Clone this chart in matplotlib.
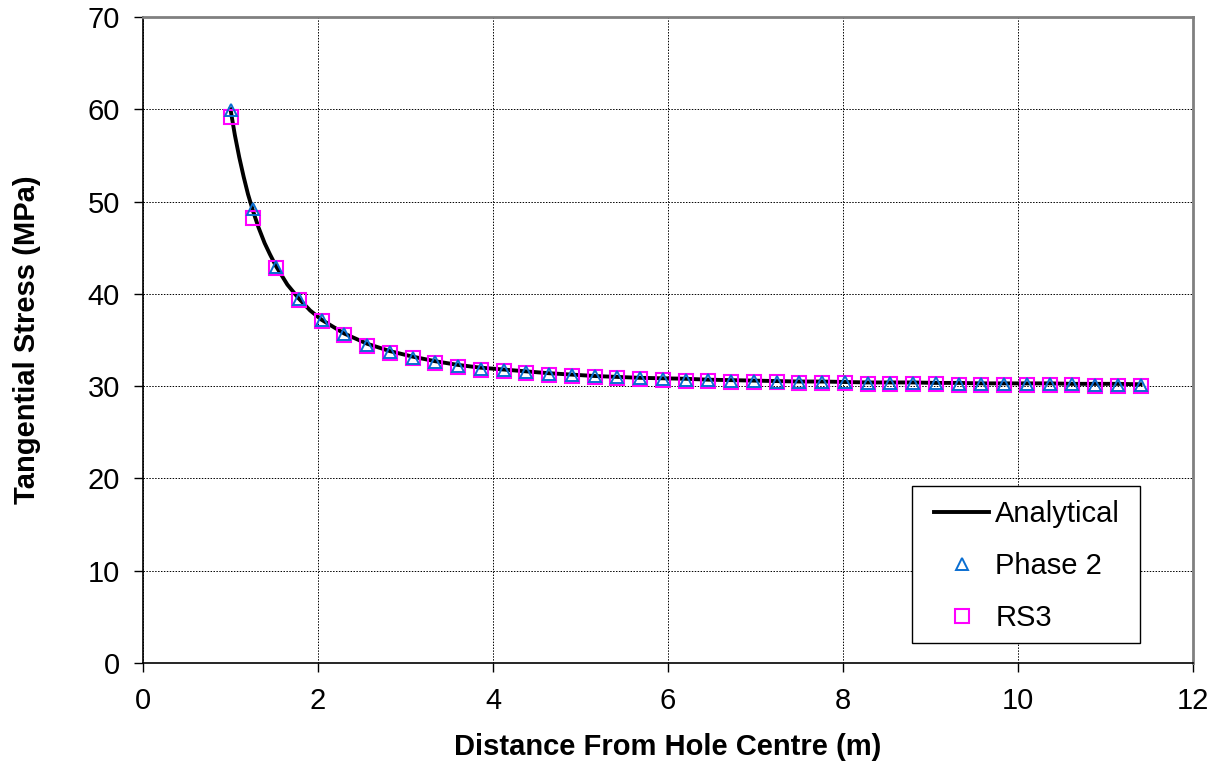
import matplotlib
matplotlib.use("Agg")
import matplotlib.pyplot as plt
from matplotlib.patches import Rectangle

plt.rcParams['font.family'] = ['Liberation Sans', 'DejaVu Sans']

# Analytical curve
r_analytical = [1.0, 1.05, 1.1, 1.15, 1.2, 1.26, 1.32, 1.39, 1.45, 1.52, 1.65, 1.78, 1.91,
                2.04, 2.3, 2.56, 2.82, 3.08, 3.34, 3.6, 3.86, 4.12, 4.38, 4.64, 4.9,
                5.16, 5.42, 5.68, 5.94, 6.2, 6.46, 6.72, 6.98, 7.24, 7.5, 7.76, 8.02,
                8.28, 8.54, 8.8, 9.06, 9.32, 9.58, 9.84, 10.1, 10.36, 10.62, 10.88,
                11.14, 11.4]
s_analytical = [60.0, 57.2, 54.8, 52.7, 50.8, 48.9, 47.2, 45.5, 44.3, 43.0, 41.0, 39.5, 38.2,
                37.2, 35.7, 34.6, 33.8, 33.2, 32.7, 32.3, 32.0, 31.8, 31.6, 31.4, 31.25,
                31.1, 31.0, 30.9, 30.85, 30.8, 30.7, 30.65, 30.6, 30.55, 30.5, 30.5, 30.45,
                30.4, 30.4, 30.4, 30.35, 30.35, 30.3, 30.3, 30.3, 30.3, 30.25, 30.25,
                30.25, 30.2]

# Model results
r_points = [1.0, 1.26, 1.52, 1.78, 2.04, 2.3, 2.56, 2.82, 3.08, 3.34, 3.6, 3.86, 4.12,
            4.38, 4.64, 4.9, 5.16, 5.42, 5.68, 5.94, 6.2, 6.46, 6.72, 6.98, 7.24, 7.5,
            7.76, 8.02, 8.28, 8.54, 8.8, 9.06, 9.32, 9.58, 9.84, 10.1, 10.36, 10.62,
            10.88, 11.14, 11.4]
s_phase2 = [59.9, 49.2, 42.9, 39.4, 37.2, 35.6, 34.5, 33.7, 33.1, 32.6, 32.2, 31.9, 31.7,
            31.5, 31.3, 31.2, 31.05, 30.95, 30.85, 30.8, 30.7, 30.65, 30.6, 30.55, 30.5,
            30.45, 30.4, 30.4, 30.35, 30.35, 30.3, 30.3, 30.25, 30.25, 30.2, 30.2, 30.2,
            30.2, 30.15, 30.15, 30.15]
s_rs3 = [59.2, 48.2, 42.8, 39.3, 37.1, 35.5, 34.4, 33.6, 33.0, 32.5, 32.1, 31.8, 31.6,
         31.4, 31.2, 31.1, 30.95, 30.85, 30.75, 30.7, 30.6, 30.55, 30.5, 30.45, 30.4,
         30.35, 30.3, 30.3, 30.25, 30.25, 30.2, 30.2, 30.15, 30.15, 30.1, 30.1, 30.1,
         30.1, 30.05, 30.05, 30.05]

FS = 21
W, H = 1219, 770
AX_L, AX_R, AX_T, AX_B = 143, 1193, 17, 663

def ax_x(px):
    return (px - AX_L) / (AX_R - AX_L)

def ax_y(py):
    return (AX_B - py) / (AX_B - AX_T)

fig = plt.figure(figsize=(W / 100, H / 100), dpi=100)
ax = fig.add_axes([AX_L / W, 1 - AX_B / H, (AX_R - AX_L) / W, (AX_B - AX_T) / H])

ax.plot(r_analytical, s_analytical, color='black', lw=2.8, label='Analytical', zorder=3)
ax.plot(r_points, s_phase2, ls='none', marker='^', ms=8.5, mfc='none', mec='#0a6ed1',
        mew=1.4, label='Phase 2', zorder=5)
ax.plot(r_points, s_rs3, ls='none', marker='s', ms=9.5, mfc='none', mec='#ff00ff',
        mew=1.5, label='RS3', zorder=4)

ax.set_xlim(0, 12)
ax.set_ylim(0, 70)
ax.set_xticks(range(0, 13, 2))
ax.set_yticks(range(0, 71, 10))
ax.grid(True, color='black', ls=(0, (1.5, 1.5)), lw=0.7)
ax.set_axisbelow(True)

for s in ['left', 'bottom']:
    ax.spines[s].set_color('black')
    ax.spines[s].set_linewidth(1.2)
for s in ['top', 'right']:
    ax.spines[s].set_color('#808080')
    ax.spines[s].set_linewidth(2.0)

ax.tick_params(direction='out', length=6.5, width=1, labelsize=FS)
ax.tick_params(axis='x', pad=10.5)
ax.tick_params(axis='y', pad=10)

ax.set_xlabel('Distance From Hole Centre (m)', fontsize=FS, fontweight='bold')
ax.set_ylabel('Tangential Stress (MPa)', fontsize=FS, fontweight='bold')
ax.xaxis.set_label_coords(0.5, ax_y(747), transform=ax.transAxes)
ax.yaxis.set_label_coords(ax_x(27), 0.5, transform=ax.transAxes)
ax.xaxis.label.set_verticalalignment('center')
ax.yaxis.label.set_verticalalignment('center')

# legend frame
frame = Rectangle((ax_x(912), ax_y(643)), ax_x(1140) - ax_x(912), ax_y(486) - ax_y(643),
                  transform=ax.transAxes, facecolor='white', edgecolor='black',
                  lw=1.0, zorder=6, clip_on=False)
ax.add_patch(frame)

leg = ax.legend(loc='upper left',
                bbox_to_anchor=(ax_x(934), ax_y(500)),
                bbox_transform=ax.transAxes,
                fontsize=FS, frameon=False,
                handlelength=1.9, handletextpad=0.2, labelspacing=0.82,
                borderpad=0.0, borderaxespad=0.0)
leg.set_zorder(7)

fig.savefig('out.png', dpi=100)
